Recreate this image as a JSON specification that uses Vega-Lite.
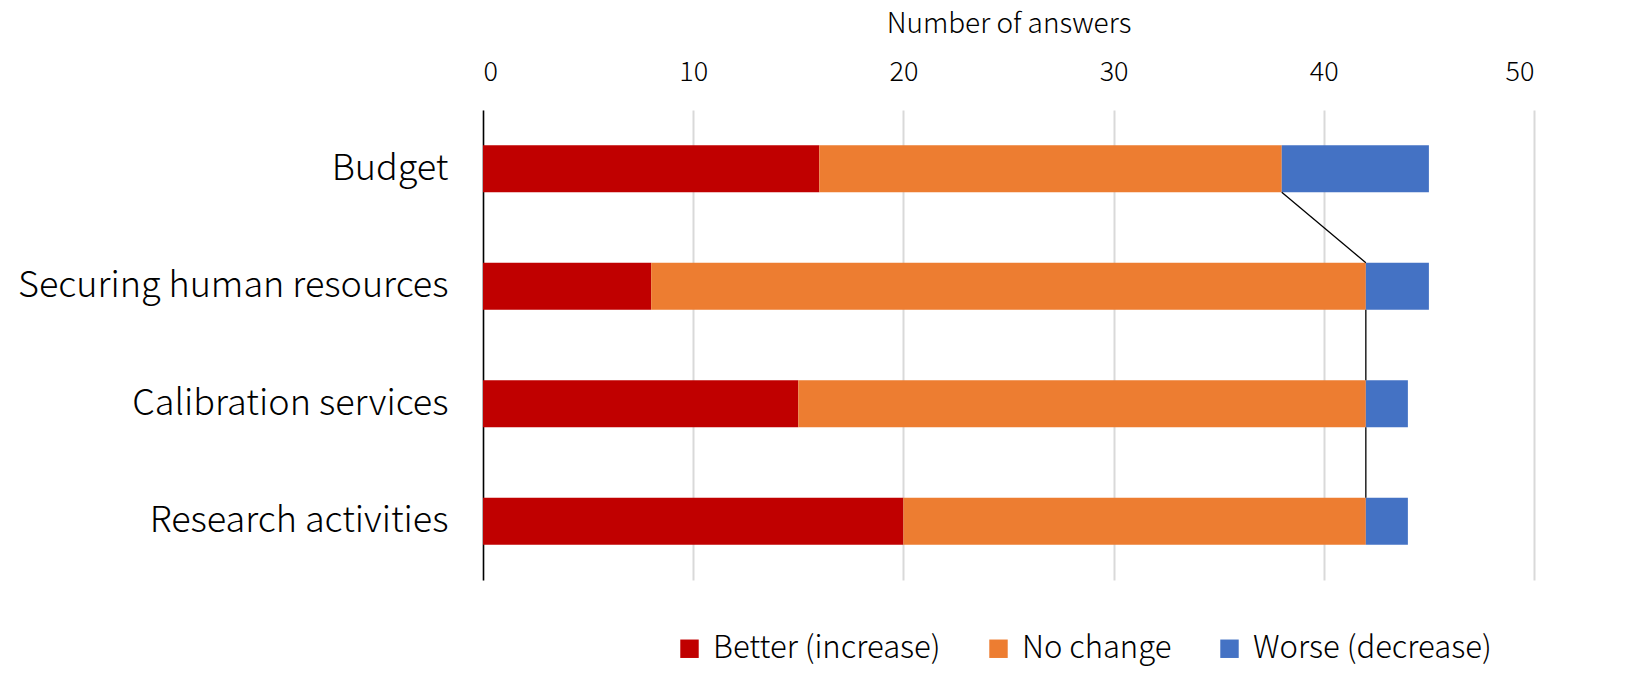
{
  "$schema": "https://vega.github.io/schema/vega-lite/v6.json",
  "width": 1051,
  "height": 470,
  "autosize": {"type": "none"},
  "padding": {"left": 483, "top": 110, "right": 115, "bottom": 116},
  "config": {
    "font": "Noto Sans CJK JP",
    "view": {"stroke": null},
    "axis": {"labelColor": "#000000", "titleColor": "#000000", "labelFontWeight": 300, "titleFontWeight": 300}
  },
  "layer": [
    {
      "data": {
        "values": [
          {"item": "Budget", "answer": "Better (increase)", "rank": 1, "count": 16},
          {"item": "Budget", "answer": "No change", "rank": 2, "count": 22},
          {"item": "Budget", "answer": "Worse (decrease)", "rank": 3, "count": 7},
          {"item": "Securing human resources", "answer": "Better (increase)", "rank": 1, "count": 8},
          {"item": "Securing human resources", "answer": "No change", "rank": 2, "count": 34},
          {"item": "Securing human resources", "answer": "Worse (decrease)", "rank": 3, "count": 3},
          {"item": "Calibration services", "answer": "Better (increase)", "rank": 1, "count": 15},
          {"item": "Calibration services", "answer": "No change", "rank": 2, "count": 27},
          {"item": "Calibration services", "answer": "Worse (decrease)", "rank": 3, "count": 2},
          {"item": "Research activities", "answer": "Better (increase)", "rank": 1, "count": 20},
          {"item": "Research activities", "answer": "No change", "rank": 2, "count": 22},
          {"item": "Research activities", "answer": "Worse (decrease)", "rank": 3, "count": 2}
        ]
      },
      "mark": {"type": "bar"},
      "encoding": {
        "y": {
          "field": "item",
          "type": "nominal",
          "scale": {
            "domain": ["Budget", "Securing human resources", "Calibration services", "Research activities"],
            "paddingInner": 0.6,
            "paddingOuter": 0.3
          },
          "axis": {
            "title": null,
            "ticks": false,
            "domain": true,
            "domainColor": "#000000",
            "domainWidth": 1.5,
            "labelFontSize": 36,
            "labelLimit": 0,
            "labelPadding": 35,
            "grid": false
          }
        },
        "x": {
          "field": "count",
          "type": "quantitative",
          "stack": "zero",
          "scale": {"domain": [0, 50], "nice": false},
          "axis": {
            "orient": "top",
            "title": "Number of answers",
            "titleFontSize": 28,
            "titlePadding": 20,
            "values": [0, 10, 20, 30, 40, 50],
            "labelFontSize": 27,
            "labelPadding": 24,
            "ticks": false,
            "domain": false,
            "grid": true,
            "gridColor": "#D9D9D9",
            "gridWidth": 2
          }
        },
        "color": {
          "field": "answer",
          "type": "nominal",
          "scale": {
            "domain": ["Better (increase)", "No change", "Worse (decrease)"],
            "range": ["#C00000", "#ED7D31", "#4472C4"]
          },
          "legend": {
            "title": null,
            "orient": "none",
            "direction": "horizontal",
            "legendX": 191,
            "legendY": 523,
            "symbolType": "square",
            "symbolSize": 340,
            "symbolStrokeWidth": 0,
            "symbolOpacity": 1,
            "labelFontSize": 31,
            "labelFontWeight": 300,
            "labelColor": "#000000",
            "labelLimit": 0,
            "labelOffset": 8,
            "columnPadding": 42
          }
        },
        "order": {"field": "rank", "type": "quantitative"}
      }
    },
    {
      "data": {
        "values": [
          {"from": "Budget", "to": "Securing human resources", "start": 38, "end": 42},
          {"from": "Securing human resources", "to": "Calibration services", "start": 42, "end": 42},
          {"from": "Calibration services", "to": "Research activities", "start": 42, "end": 42}
        ]
      },
      "mark": {"type": "rule", "color": "#000000", "strokeWidth": 1.3},
      "encoding": {
        "y": {"field": "from", "type": "nominal", "bandPosition": 1},
        "y2": {"field": "to", "bandPosition": 0},
        "x": {"field": "start", "type": "quantitative"},
        "x2": {"field": "end"}
      }
    }
  ]
}
